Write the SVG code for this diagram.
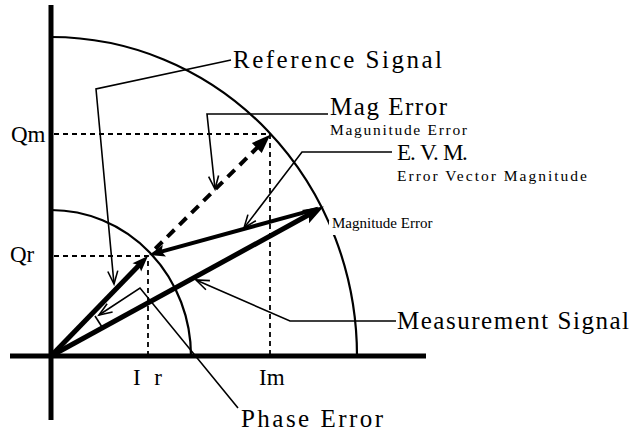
<svg xmlns="http://www.w3.org/2000/svg" width="636" height="434" viewBox="0 0 636 434">
<style>
  .axis{stroke:#000;stroke-width:5;fill:none}
  .arc{stroke:#000;stroke-width:2.2;fill:none}
  .guide{stroke:#000;stroke-width:1.8;stroke-dasharray:5 4;fill:none}
  .vec{stroke:#000;fill:none}
  .lead{stroke:#000;stroke-width:1.6;fill:none;marker-end:url(#open)}
  .big{font-family:"Liberation Serif","DejaVu Serif",serif;font-size:25px;fill:#000}
  .small{font-family:"Liberation Serif","DejaVu Serif",serif;font-size:15.5px;fill:#000}
  .axl{font-family:"Liberation Serif","DejaVu Serif",serif;font-size:23px;fill:#000}
  .tiny{font-family:"Liberation Serif","DejaVu Serif",serif;font-size:15px;fill:#000}
</style>
<defs>
  <marker id="open" markerUnits="userSpaceOnUse" markerWidth="30" markerHeight="30" refX="0" refY="0" orient="auto" viewBox="-15 -15 30 30" overflow="visible">
    <path d="M-13,-5 L0,0 L-13,5" fill="none" stroke="#000" stroke-width="1.6"/>
  </marker>
  <marker id="headL" markerUnits="userSpaceOnUse" markerWidth="40" markerHeight="40" refX="10" refY="0" orient="auto" viewBox="-20 -20 40 40" overflow="visible">
    <path d="M0,-7.5 L21,0 L0,7.5 L4,0 z" fill="#000"/>
  </marker>
  <marker id="headM" markerUnits="userSpaceOnUse" markerWidth="40" markerHeight="40" refX="8" refY="0" orient="auto" viewBox="-20 -20 40 40" overflow="visible">
    <path d="M0,-6 L16,0 L0,6 L3,0 z" fill="#000"/>
  </marker>
  <marker id="headD" markerUnits="userSpaceOnUse" markerWidth="40" markerHeight="40" refX="10" refY="0" orient="auto" viewBox="-20 -20 40 40" overflow="visible">
    <path d="M0,-7 L19,0 L0,7 z" fill="#000"/>
  </marker>
</defs>
<rect width="636" height="434" fill="#fff"/>

<g id="axes">
  <line class="axis" x1="51" y1="5" x2="51" y2="420"/>
  <line class="axis" x1="10" y1="356" x2="426" y2="356"/>
</g>

<g id="circles">
  <path class="arc" d="M51,37 A306,319 0 0 1 357,356"/>
  <path class="arc" d="M51,210 A140,146 0 0 1 191,356"/>
</g>

<g id="guides">
  <polyline class="guide" points="54,134 270,134 270,354"/>
  <polyline class="guide" points="54,256 148,256 148,354"/>
</g>

<g id="connectors">
  <line class="vec" stroke-width="5" x1="51" y1="356" x2="314.2" y2="211.8" marker-end="url(#headL)"/>
  <line class="vec" stroke-width="5" x1="51" y1="356" x2="142.4" y2="261.7" marker-end="url(#headM)"/>
  <line class="vec" stroke-width="4" x1="318" y1="208.6" x2="156.7" y2="252.9" marker-end="url(#headM)"/>
  <line class="vec" stroke-width="4" stroke-dasharray="10 7" stroke-dashoffset="-6" x1="151" y1="253" x2="263.9" y2="141" marker-end="url(#headD)"/>
  <polyline class="lead" points="231,60 96,89 114,284"/>
  <polyline class="lead" points="328,114 207,114 215,189"/>
  <polyline class="lead" points="392,152 302,152 244,228"/>
  <polyline class="lead" points="396,321 290,321 196,280"/>
  <polyline class="lead" points="238,408 140,288 99,315"/>
  <line stroke="#000" stroke-width="1.6" x1="95" y1="316" x2="102" y2="327"/>
</g>

<g id="axis-labels">
  <text class="axl" x="11" y="142">Qm</text>
  <text class="axl" x="10" y="262">Qr</text>
  <text class="axl" x="133" y="385" textLength="29" lengthAdjust="spacing">Ir</text>
  <text class="axl" x="259" y="385">Im</text>
</g>

<g id="reference-signal">
  <text class="big" x="233" y="68" textLength="209" lengthAdjust="spacing">Reference Signal</text>
</g>
<g id="mag-error">
  <text class="big" x="330" y="115" textLength="117" lengthAdjust="spacing">Mag Error</text>
  <text class="small" x="330" y="135" textLength="137" lengthAdjust="spacing">Magunitude Error</text>
</g>
<g id="evm">
  <text class="axl" x="397 410 415 420 433 438 443 462" y="160">E. V. M.</text>
  <text class="small" x="397" y="181" textLength="190" lengthAdjust="spacing">Error Vector Magnitude</text>
</g>
<g id="magnitude-error">
  <rect x="329" y="221" width="108" height="14" fill="#fff"/>
  <text class="tiny" x="332" y="228">Magnitude Error</text>
</g>
<g id="measurement-signal">
  <text class="big" x="397" y="329" textLength="232" lengthAdjust="spacing">Measurement Signal</text>
</g>
<g id="phase-error">
  <text class="big" x="241" y="427" textLength="142" lengthAdjust="spacing">Phase Error</text>
</g>
</svg>
